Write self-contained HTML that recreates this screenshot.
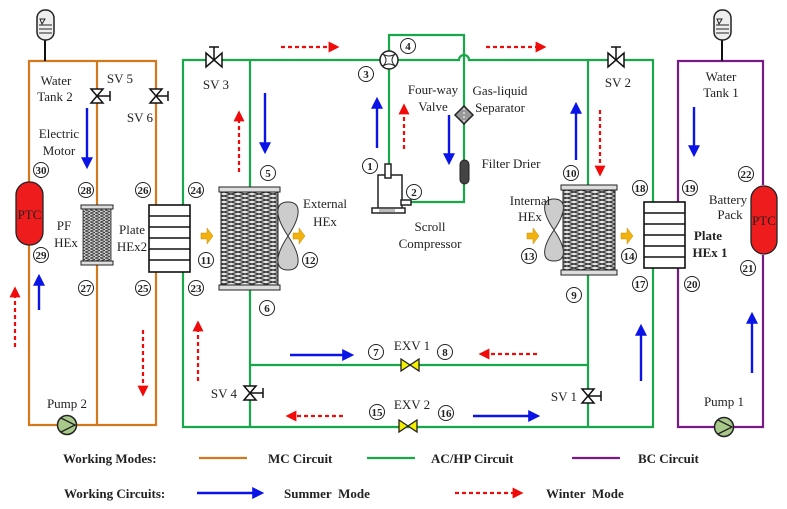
<!DOCTYPE html>
<html><head><meta charset="utf-8"><style>
html,body{margin:0;padding:0;background:#fff}
svg{display:block}
text{font-family:"Liberation Serif",serif;font-size:13px;fill:#222}
.n{font-size:11px;font-weight:bold;text-anchor:middle}
.b{font-weight:bold;font-size:13px}
</style></head><body>
<svg width="787" height="509" viewBox="0 0 787 509" xmlns="http://www.w3.org/2000/svg">
<defs>
<marker id="ab" markerWidth="5" markerHeight="5" refX="2" refY="2.5" orient="auto" markerUnits="strokeWidth"><path d="M0,0 L5,2.5 L0,5z" fill="#0a14e6"/></marker>
<marker id="ar" markerWidth="5" markerHeight="5" refX="2" refY="2.5" orient="auto" markerUnits="strokeWidth"><path d="M0,0 L5,2.5 L0,5z" fill="#f00a0a"/></marker>
<pattern id="zz" width="14" height="8" patternUnits="userSpaceOnUse"><rect width="14" height="8" fill="#e4e4e4"/><path d="M0,0 L14,4 L0,8 M14,0 L0,4 L14,8" stroke="#333" stroke-width="1.1" fill="none"/></pattern>
<pattern id="zs" width="5" height="3" patternUnits="userSpaceOnUse"><rect width="5" height="3" fill="#ccc"/><path d="M0,0 L5,1.5 L0,3" stroke="#333" stroke-width="0.8" fill="none"/></pattern>
<symbol id="valve" viewBox="-10 -7 20 14"><path d="M-9,-6 L9,6 L9,-6 L-9,6z" fill="#f3f000" stroke="#222" stroke-width="1.3"/></symbol>
</defs>

<g stroke="#d2781e" stroke-width="2.2" fill="none">
<path d="M29,182 V61 H156 V205"/>
<path d="M97,61 V205"/>
<path d="M29,245 V425 H156 V272"/>
<path d="M97,265 V425"/>
</g>
<line x1="45" y1="40" x2="45" y2="61" stroke="#111" stroke-width="2"/>
<g stroke="#7a1a8a" stroke-width="2.2" fill="none">
<path d="M678,202 V61 H763 V185"/>
<path d="M678,268 V427 H763 V255"/>
</g>
<line x1="722" y1="40" x2="722" y2="61" stroke="#111" stroke-width="2"/>
<g stroke="#18a84a" stroke-width="2.2" fill="none">
<path d="M183,205 V60 H380"/>
<path d="M398,60 H459 A5,5 0 0 1 469,60 H653 V202"/>
<path d="M183,272 V427 H653 V268"/>
<path d="M250,60 V187"/><path d="M250,290 V427"/>
<path d="M588,60 V185"/><path d="M588,275 V427"/>
<path d="M250,365 H588"/>
<path d="M389,51 V35 H464 V202 H410"/>
<path d="M389,69 V172"/>
</g>
<g stroke="#222" stroke-width="1.5" fill="#eee">
<rect x="37" y="10" width="17" height="30" rx="8"/>
<rect x="714" y="10" width="17" height="30" rx="8"/>
</g>
<g stroke="#222" stroke-width="1"><path d="M39,25 H52 M39,29 H52 M39,33 H52 M716,25 H729 M716,29 H729 M716,33 H729"/><path d="M40,19 L45,19 L42,24z M717,19 L722,19 L719,24z" fill="none"/></g>
<rect x="16" y="182" width="27" height="63" rx="13" fill="#ee1c1c" stroke="#222" stroke-width="1.3"/>
<text x="29.5" y="219" text-anchor="middle" style="fill:#222">PTC</text>
<rect x="751" y="186" width="26" height="68" rx="13" fill="#ee1c1c" stroke="#222" stroke-width="1.3"/>
<text x="764" y="225" text-anchor="middle" style="fill:#222">PTC</text>
<rect x="81" y="205" width="32" height="4" fill="#ddd" stroke="#222"/>
<rect x="83" y="209" width="28" height="52" fill="url(#zs)" stroke="#222" stroke-width="0.8"/>
<rect x="81" y="261" width="32" height="4" fill="#ddd" stroke="#222"/>
<g stroke="#111" stroke-width="1.6" fill="#fff">
<rect x="149" y="205" width="41" height="67"/>
<path d="M149,216 H190 M149,227 H190 M149,238 H190 M149,249 H190 M149,260 H190"/>
<rect x="644" y="202" width="41" height="66"/>
<path d="M644,213 H685 M644,224 H685 M644,235 H685 M644,246 H685 M644,257 H685"/>
</g>
<rect x="219" y="187" width="61" height="5" fill="#ddd" stroke="#222"/>
<rect x="221" y="192" width="57" height="93" fill="url(#zz)" stroke="#222"/>
<rect x="219" y="285" width="61" height="5" fill="#ddd" stroke="#222"/>
<path d="M288,236 C274,215 275,202 288,202 C301,202 302,215 288,236 C274,257 275,270 288,270 C301,270 302,257 288,236z" fill="#ccc" stroke="#333"/>
<rect x="561" y="185" width="56" height="5" fill="#ddd" stroke="#222"/>
<rect x="563" y="190" width="52" height="80" fill="url(#zz)" stroke="#222"/>
<rect x="561" y="270" width="56" height="5" fill="#ddd" stroke="#222"/>
<path d="M554,230 C541,211 542,199 554,199 C566,199 567,211 554,230 C541,249 542,261 554,261 C566,261 567,249 554,230z" fill="#ccc" stroke="#333"/>
<circle cx="389" cy="60" r="9" fill="#fff" stroke="#222" stroke-width="1.5"/>
<path d="M383,54 Q389,60 383,66 M395,54 Q389,60 395,66 M383,54 Q389,58 395,54 M383,66 Q389,62 395,66" fill="none" stroke="#222"/>
<g stroke="#222" stroke-width="1.5" fill="none">
<path d="M378,212 V175 H402 V208"/>
<rect x="385" y="164" width="6" height="14" fill="#fff"/>
<rect x="372" y="208" width="33" height="5" fill="#fff"/>
<rect x="401" y="200" width="10" height="5" fill="#fff"/>
</g>
<rect x="379" y="209" width="16" height="3" fill="#bbb"/>
<path d="M464,106 L473,115 L464,124 L455,115z" fill="#999" stroke="#222" stroke-width="1.5"/>
<line x1="464" y1="108" x2="464" y2="122" stroke="#fff" stroke-dasharray="2,2"/>
<rect x="460" y="160" width="9" height="24" rx="4.5" fill="#444" stroke="#222"/>
<use href="#valve" x="400" y="358" width="20" height="14"/>
<use href="#valve" x="398" y="419" width="20" height="14"/>
<g stroke="#111" stroke-width="1.5" fill="#fff">
<path d="M206,53 L222,67 V53 L206,67z"/><path d="M214,60 V47 M209,47 H219"/>
<path d="M608,53 L624,67 V53 L608,67z"/><path d="M616,60 V47 M611,47 H621"/>
<path d="M91,89 L103,103 H91 L103,89z"/><path d="M97,96 H110 M110,91 V101"/>
<path d="M150,89 L162,103 H150 L162,89z"/><path d="M156,96 H168 M168,91 V101"/>
<path d="M244,386 L256,400 H244 L256,386z"/><path d="M250,393 H263 M263,388 V398"/>
<path d="M582,389 L594,403 H582 L594,389z"/><path d="M588,396 H601 M601,391 V401"/>
</g>
<g stroke="#222" stroke-width="1.5" fill="#a9c98b">
<circle cx="67" cy="425" r="9.5"/><circle cx="724" cy="427" r="9.5"/>
</g>
<path d="M61,418 L75,425 L61,432 M718,420 L732,427 L718,434" fill="none" stroke="#222" stroke-width="1.3"/>
<g fill="#f3b10c" stroke="#c88a00" stroke-width="0.5">
<path d="M201,233 H207 V228 L213,236 L207,244 V239 H201z"/>
<path d="M293,233 H299 V228 L305,236 L299,244 V239 H293z"/>
<path d="M527,233 H533 V228 L539,236 L533,244 V239 H527z"/>
<path d="M621,233 H627 V228 L633,236 L627,244 V239 H621z"/>
</g>
<g stroke="#0a14e6" stroke-width="2.4" fill="none" marker-end="url(#ab)">
<path d="M87,108 V162"/><path d="M39,310 V281"/><path d="M265,93 V147"/>
<path d="M377,148 V104"/><path d="M449,115 V158"/><path d="M576,160 V109"/>
<path d="M694,107 V150"/><path d="M641,381 V331"/><path d="M752,373 V319"/>
<path d="M290,355 H347"/><path d="M473,416 H533"/><path d="M197,493 H257"/>
</g>
<g stroke="#f00a0a" stroke-width="2.2" fill="none" stroke-dasharray="4,3" marker-end="url(#ar)">
<path d="M239,172 V117"/><path d="M404,149 V110"/><path d="M600,110 V170"/>
<path d="M15,347 V293"/><path d="M143,330 V390"/><path d="M198,381 V327"/>
<path d="M281,47 H333"/><path d="M486,47 H540"/><path d="M537,354 H485"/>
<path d="M343,416 H292"/><path d="M455,493 H517"/>
</g>
<line x1="199" y1="458" x2="247" y2="458" stroke="#d2781e" stroke-width="2.2"/>
<line x1="367" y1="458" x2="415" y2="458" stroke="#18a84a" stroke-width="2.2"/>
<line x1="572" y1="458" x2="620" y2="458" stroke="#7a1a8a" stroke-width="2.2"/>
<text class="b" x="63" y="463">Working Modes:</text>
<text class="b" x="268" y="463">MC Circuit</text>
<text class="b" x="431" y="463">AC/HP Circuit</text>
<text class="b" x="638" y="463">BC Circuit</text>
<text class="b" x="64" y="498">Working Circuits:</text>
<text class="b" x="284" y="498">Summer&#160;&#160;Mode</text>
<text class="b" x="546" y="498">Winter&#160;&#160;Mode</text>
<g text-anchor="middle">
<text x="56" y="85">Water</text><text x="55" y="101">Tank 2</text>
<text x="120" y="83">SV 5</text><text x="140" y="122">SV 6</text>
<text x="59" y="138">Electric</text><text x="59" y="155">Motor</text>
<text x="64" y="230">PF</text><text x="66" y="247">HEx</text>
<text x="132" y="234">Plate</text><text x="132" y="251">HEx2</text>
<text x="216" y="89">SV 3</text>
<text x="325" y="208">External</text><text x="325" y="226">HEx</text>
<text x="433" y="94">Four-way</text><text x="433" y="111">Valve</text>
<text x="500" y="95">Gas-liquid</text><text x="500" y="112">Separator</text>
<text x="511" y="168">Filter Drier</text>
<text x="430" y="231">Scroll</text><text x="430" y="248">Compressor</text>
<text x="530" y="205">Internal</text><text x="530" y="221">HEx</text>
<text x="618" y="87">SV 2</text>
<text x="721" y="81">Water</text><text x="721" y="97">Tank 1</text>
<text x="728" y="204">Battery</text><text x="730" y="219">Pack</text>
<text x="708" y="240" style="font-weight:bold">Plate</text><text x="710" y="257" style="font-weight:bold">HEx 1</text>
<text x="412" y="350">EXV 1</text><text x="412" y="409">EXV 2</text>
<text x="224" y="398">SV 4</text><text x="564" y="401">SV 1</text>
<text x="67" y="408">Pump 2</text><text x="724" y="406">Pump 1</text>
</g>
<g fill="#fff" stroke="#222" stroke-width="1">
<circle cx="370" cy="166" r="7.5"/><circle cx="414" cy="192" r="7.5"/><circle cx="366" cy="74" r="7.5"/><circle cx="408" cy="46" r="7.5"/>
<circle cx="268" cy="173" r="7.5"/><circle cx="267" cy="308" r="7.5"/><circle cx="376" cy="352" r="7.5"/><circle cx="445" cy="352" r="7.5"/>
<circle cx="574" cy="295" r="7.5"/><circle cx="571" cy="173" r="7.5"/><circle cx="206" cy="260" r="7.5"/><circle cx="310" cy="260" r="7.5"/>
<circle cx="529" cy="256" r="7.5"/><circle cx="629" cy="256" r="7.5"/><circle cx="377" cy="412" r="7.5"/><circle cx="446" cy="413" r="7.5"/>
<circle cx="640" cy="284" r="7.5"/><circle cx="640" cy="188" r="7.5"/><circle cx="690" cy="188" r="7.5"/><circle cx="692" cy="284" r="7.5"/>
<circle cx="748" cy="268" r="7.5"/><circle cx="746" cy="174" r="7.5"/><circle cx="196" cy="288" r="7.5"/><circle cx="196" cy="190" r="7.5"/>
<circle cx="143" cy="288" r="7.5"/><circle cx="143" cy="190" r="7.5"/><circle cx="86" cy="288" r="7.5"/><circle cx="86" cy="190" r="7.5"/>
<circle cx="41" cy="255" r="7.5"/><circle cx="41" cy="170" r="7.5"/>
</g>
<g class="n">
<text class="n" x="370" y="170">1</text><text class="n" x="414" y="196">2</text><text class="n" x="366" y="78">3</text><text class="n" x="408" y="50">4</text>
<text class="n" x="268" y="177">5</text><text class="n" x="267" y="312">6</text><text class="n" x="376" y="356">7</text><text class="n" x="445" y="356">8</text>
<text class="n" x="574" y="299">9</text><text class="n" x="571" y="177">10</text><text class="n" x="206" y="264">11</text><text class="n" x="310" y="264">12</text>
<text class="n" x="529" y="260">13</text><text class="n" x="629" y="260">14</text><text class="n" x="377" y="416">15</text><text class="n" x="446" y="417">16</text>
<text class="n" x="640" y="288">17</text><text class="n" x="640" y="192">18</text><text class="n" x="690" y="192">19</text><text class="n" x="692" y="288">20</text>
<text class="n" x="748" y="272">21</text><text class="n" x="746" y="178">22</text><text class="n" x="196" y="292">23</text><text class="n" x="196" y="194">24</text>
<text class="n" x="143" y="292">25</text><text class="n" x="143" y="194">26</text><text class="n" x="86" y="292">27</text><text class="n" x="86" y="194">28</text>
<text class="n" x="41" y="259">29</text><text class="n" x="41" y="174">30</text>
</g>
</svg>
</body></html>
